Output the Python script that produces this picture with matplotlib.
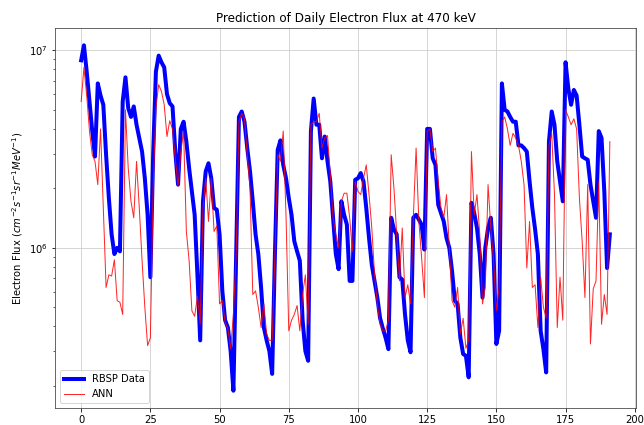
import matplotlib
matplotlib.use("Agg")
import matplotlib.pyplot as plt
import numpy as np

# daily flux at 470 keV (cm^-2 s^-1 sr^-1 MeV^-1)
rbsp = [
    8.9e6, 1.06e7, 7.8e6, 5.5e6, 3.9e6, 2.9e6, 6.8e6, 5.9e6, 5.3e6, 2.96e6,
    1.79e6, 1.17e6, 9.3e5, 1.0e6, 9.6e5, 5.5e6, 7.3e6, 5.1e6, 4.6e6, 5.2e6,
    4.2e6, 3.6e6, 3.07e6, 2.25e6, 1.47e6, 7.1e5, 2.96e6, 7.8e6, 9.4e6, 8.7e6,
    8.2e6, 6.0e6, 5.4e6, 5.2e6, 3.07e6, 2.09e6, 4.0e6, 4.35e6, 3.45e6, 2.53e6,
    1.93e6, 1.47e6, 7.3e5, 3.4e5, 1.72e6, 2.44e6, 2.68e6, 2.25e6, 1.59e6, 1.56e6,
    1.17e6, 6.05e5, 4.3e5, 3.95e5, 3.0e5, 1.89e5, 9.3e5, 4.6e6, 4.9e6, 4.35e6,
    3.2e6, 2.44e6, 1.72e6, 1.17e6, 9.3e5, 6.3e5, 3.95e5, 3.4e5, 3.0e5, 2.3e5,
    9.3e5, 3.13e6, 3.5e6, 2.63e6, 2.25e6, 1.79e6, 1.47e6, 1.08e6, 9.6e5, 8.6e5,
    4.3e5, 3.0e5, 2.68e5, 3.9e6, 5.7e6, 4.2e6, 4.2e6, 2.84e6, 3.66e6, 2.74e6,
    2.17e6, 1.42e6, 9.3e5, 7.8e5, 1.72e6, 1.47e6, 1.31e6, 6.8e5, 6.8e5, 2.21e6,
    2.25e6, 2.39e6, 2.17e6, 1.59e6, 1.12e6, 8.2e5, 6.8e5, 5.6e5, 4.4e5, 3.9e5,
    3.5e5, 3.07e5, 1.42e6, 1.24e6, 1.17e6, 7.1e5, 6.9e5, 4.6e5, 3.4e5, 2.96e5,
    1.42e6, 1.47e6, 1.39e6, 1.31e6, 9.8e5, 4.0e6, 4.0e6, 2.84e6, 2.63e6, 1.65e6,
    1.5e6, 1.36e6, 1.12e6, 1.0e6, 7.6e5, 5.4e5, 5.2e5, 3.5e5, 2.9e5, 2.84e5,
    2.21e5, 1.69e6, 1.5e6, 1.26e6, 9.3e5, 5.6e5, 1.0e6, 1.26e6, 1.42e6, 9.3e5,
    3.26e5, 3.8e5, 6.8e6, 5.0e6, 4.9e6, 4.6e6, 4.35e6, 4.35e6, 3.3e6, 3.3e6,
    3.2e6, 3.07e6, 2.17e6, 1.59e6, 1.24e6, 9.3e5, 3.8e5, 3.07e5, 2.34e5, 3.45e6,
    4.9e6, 4.2e6, 2.74e6, 2.17e6, 1.72e6, 8.7e6, 6.4e6, 5.3e6, 6.3e6, 5.9e6,
    4.2e6, 2.9e6, 2.84e6, 2.79e6, 2.09e6, 1.72e6, 1.42e6, 3.9e6, 3.6e6, 1.93e6,
    7.9e5, 1.17e6,
]

ann = [
    5.5e6, 8.2e6, 5.9e6, 3.9e6, 2.96e6, 2.74e6, 2.09e6, 4.0e6, 1.59e6, 6.3e5,
    7.3e5, 7.2e5, 8.7e5, 5.4e5, 5.3e5, 4.6e5, 5.0e6, 2.53e6, 1.72e6, 1.42e6,
    2.74e6, 1.59e6, 8.6e5, 5.0e5, 3.2e5, 3.5e5, 2.01e6, 5.1e6, 6.7e6, 6.2e6,
    5.3e6, 3.66e6, 4.4e6, 4.0e6, 2.84e6, 2.05e6, 3.07e6, 3.9e6, 1.21e6, 8.6e5,
    4.8e5, 4.5e5, 5.7e5, 4.1e5, 1.59e6, 2.25e6, 1.36e6, 2.25e6, 1.21e6, 1.29e6,
    5.2e5, 5.4e5, 4.2e5, 3.9e5, 3.07e5, 4.6e5, 9.3e5, 4.35e6, 4.8e6, 4.5e6,
    2.96e6, 2.01e6, 5.8e5, 6.05e5, 5.0e5, 3.95e5, 5.2e5, 3.66e5, 3.4e5, 3.4e5,
    9.3e5, 2.96e6, 2.74e6, 3.9e6, 1.47e6, 3.8e5, 4.3e5, 4.6e5, 5.1e5, 3.8e5,
    5.8e5, 7.3e5, 4.1e5, 4.2e6, 4.35e6, 4.35e6, 4.8e6, 3.2e6, 3.6e6, 3.7e6,
    2.34e6, 1.42e6, 1.17e6, 1.0e6, 1.72e6, 1.89e6, 1.89e6, 1.42e6, 9.6e5, 2.17e6,
    1.93e6, 1.86e6, 2.25e6, 2.63e6, 1.86e6, 1.26e6, 7.3e5, 5.2e5, 4.1e5, 3.8e5,
    3.8e5, 4.3e5, 2.96e6, 2.01e6, 1.17e6, 6.8e5, 1.26e6, 5.6e5, 6.5e5, 5.2e5,
    1.42e6, 3.2e6, 1.36e6, 8.9e5, 5.6e5, 3.9e6, 4.0e6, 3.07e6, 3.2e6, 2.17e6,
    1.59e6, 1.42e6, 1.86e6, 1.0e6, 5.4e5, 5.0e5, 6.3e5, 3.66e5, 4.4e5, 3.1e5,
    3.4e5, 3.07e6, 1.47e6, 1.86e6, 1.17e6, 5.2e5, 6.3e5, 2.09e6, 1.26e6, 8.6e5,
    4.8e5, 6.3e5, 4.35e6, 4.6e6, 4.0e6, 3.3e6, 3.8e6, 3.6e6, 3.3e6, 2.74e6,
    2.09e6, 7.9e5, 1.36e6, 6.3e5, 6.5e5, 3.95e5, 7.1e5, 5.0e5, 4.4e5, 3.3e6,
    3.8e6, 1.86e6, 3.95e5, 7.1e5, 4.3e5, 5.0e6, 4.6e6, 4.2e6, 4.5e6, 4.0e6,
    1.79e6, 1.08e6, 5.6e5, 2.09e6, 3.26e5, 6.2e5, 6.8e5, 2.17e6, 4.1e5, 5.8e5,
    4.6e5, 3.45e6,
]

days = np.arange(len(rbsp))

fig = plt.figure(figsize=(644 / 72, 425 / 72), dpi=72)
ax = fig.add_axes([0.085, 0.04, 0.903, 0.894])

ax.plot(days, rbsp, color="blue", lw=4, label="RBSP Data")
ax.plot(days, ann, color="red", lw=1, alpha=0.85, label="ANN")
ax.set_yscale("log")

ax.set_title("Prediction of Daily Electron Flux at 470 keV")
ax.set_ylabel("Electron Flux ($cm^{-2}s^{-1}sr^{-1}MeV^{-1}$)")
ax.grid(True, color="#cccccc")
for sp in ax.spines.values():
    sp.set_color("#444444")
ax.legend(loc="lower left")

fig.savefig("out.png", dpi=72)
